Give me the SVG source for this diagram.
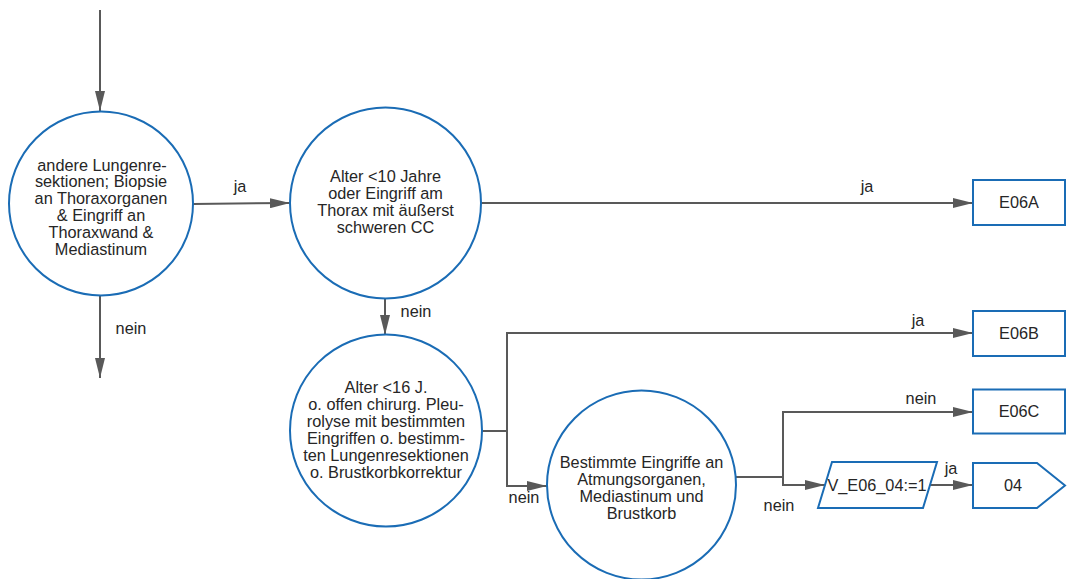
<svg xmlns="http://www.w3.org/2000/svg" width="1069" height="579" viewBox="0 0 1069 579">
<style>
.n{fill:#fff;stroke:#1a6cb5;stroke-width:2}
.c{fill:none;stroke:#595959;stroke-width:2}
text{font-family:"Liberation Sans",Arial,sans-serif;font-size:16.3px;fill:#262626;text-anchor:middle}
</style>
<defs>
<marker id="a" markerUnits="userSpaceOnUse" markerWidth="20" markerHeight="10" refX="20" refY="5" orient="auto">
<path d="M0,0 L20,5 L0,10 z" fill="#595959"/>
</marker>
</defs>
<rect width="1069" height="579" fill="#fff"/>
<g id="connectors">
<path class="c" d="M100,10 V111" marker-end="url(#a)"/>
<path class="c" d="M100,295 V378" marker-end="url(#a)"/>
<path class="c" d="M193,204 L290,203" marker-end="url(#a)"/>
<path class="c" d="M481,203 H973" marker-end="url(#a)"/>
<path class="c" d="M385,298 V335" marker-end="url(#a)"/>
<path class="c" d="M482,431 H507 V333 H973" marker-end="url(#a)"/>
<path class="c" d="M507,431 V486 H547" marker-end="url(#a)"/>
<path class="c" d="M736,477 H783 V412 H973" marker-end="url(#a)"/>
<path class="c" d="M783,477 V485 H825" marker-end="url(#a)"/>
<path class="c" d="M930,485 H973" marker-end="url(#a)"/>
<text x="240" y="192">ja</text>
<text x="131" y="334">nein</text>
<text x="867" y="192">ja</text>
<text x="416" y="317">nein</text>
<text x="918" y="326">ja</text>
<text x="921" y="404">nein</text>
<text x="524" y="503">nein</text>
<text x="779" y="511">nein</text>
<text x="951" y="474">ja</text>
</g>
<g id="n1">
<circle class="n" cx="101" cy="203.5" r="92"/>
<text x="102" y="170.5">andere Lungenre-</text>
<text x="101" y="187.3">sektionen; Biopsie</text>
<text x="101" y="204.1">an Thoraxorganen</text>
<text x="101" y="220.9">&amp; Eingriff an</text>
<text x="101" y="237.7">Thoraxwand &amp;</text>
<text x="101" y="254.5">Mediastinum</text>
</g>
<g id="n2">
<circle class="n" cx="385.5" cy="203" r="95.5"/>
<text x="385.5" y="181.5">Alter &lt;10 Jahre</text>
<text x="385.5" y="198.5">oder Eingriff am</text>
<text x="385.5" y="215.5">Thorax mit äußerst</text>
<text x="385.5" y="232.5">schweren CC</text>
</g>
<g id="n3">
<circle class="n" cx="386" cy="430.5" r="96"/>
<text x="386" y="392.5">Alter &lt;16 J.</text>
<text x="386" y="409.5">o. offen chirurg. Pleu-</text>
<text x="386" y="426.5">rolyse mit bestimmten</text>
<text x="386" y="443.5">Eingriffen o. bestimm-</text>
<text x="386" y="460.5">ten Lungenresektionen</text>
<text x="386" y="477.5">o. Brustkorbkorrektur</text>
</g>
<g id="n4">
<circle class="n" cx="641.5" cy="485" r="94.5"/>
<text x="641.5" y="467.5">Bestimmte Eingriffe an</text>
<text x="641.5" y="484.5">Atmungsorganen,</text>
<text x="641.5" y="501.5">Mediastinum und</text>
<text x="641.5" y="518.5">Brustkorb</text>
</g>
<g id="e06a">
<rect class="n" x="973" y="180" width="92" height="45"/>
<text x="1019" y="208">E06A</text>
</g>
<g id="e06b">
<rect class="n" x="973" y="311" width="92" height="45"/>
<text x="1019" y="339">E06B</text>
</g>
<g id="e06c">
<rect class="n" x="973" y="389.5" width="92" height="44"/>
<text x="1019" y="417">E06C</text>
</g>
<g id="v">
<path class="n" d="M832,462 H937 L923,508 H818 Z"/>
<text x="877" y="491">V_E06_04:=1</text>
</g>
<g id="p04">
<path class="n" d="M973,463 H1037 L1065,485.5 L1037,508 H973 Z"/>
<text x="1013" y="491">04</text>
</g>
</svg>
